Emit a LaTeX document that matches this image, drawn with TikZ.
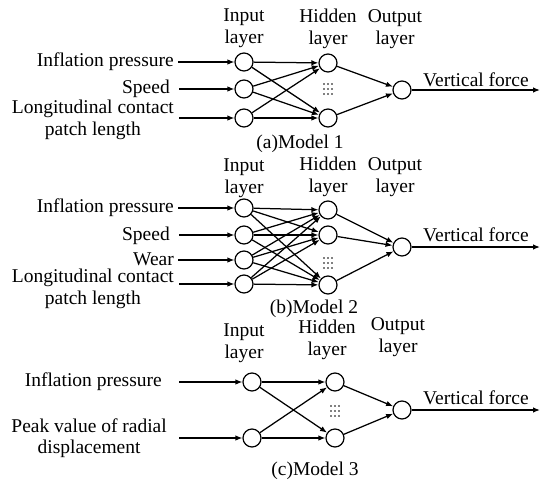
\documentclass[tikz,border=0pt]{standalone}
\usepackage{fontspec}
\setmainfont{Liberation Serif}
\usepackage{tikz}
\usetikzlibrary{arrows.meta,positioning}
\tikzset{
	neuron/.style={circle, draw, line width=1.2pt, minimum size=18pt, inner sep=0pt},
	wire/.style={line width=1.25pt, -{Latex[length=7pt,width=5.5pt]}},
	txt/.style={font=\fontsize{19.5}{21.5}\selectfont, inner sep=0pt, align=center}
}
\newcommand{\layerdots}[2]{%
	\foreach \i in {-1,0,1} \foreach \j in {-1,0,1} \fill (#1+4*\i,#2+5*\j) circle (0.85pt);}

\begin{document}
\begin{tikzpicture}[x=1pt, y=-1pt]
	\useasboundingbox (0,0) rectangle (550,490);
	% (a) Model 1
	\node[txt] (inA) at (244,28) {Input\\layer};
	\node[txt] (hidA) at (328,29) {Hidden\\layer};
	\node[txt] (outA) at (395,29) {Output\\layer};
	\node[neuron] (a1) at (244,62) {};
	\node[neuron] (a2) at (244,89) {};
	\node[neuron] (a3) at (244,118) {};
	\node[neuron] (ah1) at (328,63) {};
	\node[neuron] (ah2) at (328,118) {};
	\node[neuron] (ao) at (402,90) {};
	\layerdots{328}{89}
	\node[txt, anchor=east] (ta1) at (174,62) {Inflation pressure};
	\node[txt, anchor=east] (ta2) at (170,89) {Speed};
	\node[txt, anchor=east] (ta3) at (174,120) {Longitudinal contact\\patch length};
	\coordinate (sa1) at (178,62);
	\coordinate (sa2) at (179,89);
	\coordinate (sa3) at (179,118);
	\node[txt, anchor=west] (fa) at (423,80) {Vertical force};
	\coordinate (ea) at (540,90);
	\node[txt] (capA) at (300,144) {(a)Model 1};
	\foreach \i in {1,2,3} {
		\draw[wire] (sa\i) -- (a\i);
		\foreach \j in {1,2} \draw[wire] (a\i) -- (ah\j);
	}
	\foreach \j in {1,2} \draw[wire] (ah\j) -- (ao);
	\draw[wire] (ao) -- (ea);

	% (b) Model 2
	\node[txt] (inB) at (244,178) {Input\\layer};
	\node[txt] (hidB) at (328,177) {Hidden\\layer};
	\node[txt] (outB) at (395,177) {Output\\layer};
	\node[neuron] (b1) at (244,208) {};
	\node[neuron] (b2) at (244,235) {};
	\node[neuron] (b3) at (244,260) {};
	\node[neuron] (b4) at (244,284) {};
	\node[neuron] (bh1) at (328,210) {};
	\node[neuron] (bh2) at (328,235) {};
	\node[neuron] (bh3) at (328,285) {};
	\node[neuron] (bo) at (402,247) {};
	\layerdots{328}{263}
	\node[txt, anchor=east] (tb1) at (174,208) {Inflation pressure};
	\node[txt, anchor=east] (tb2) at (170,236) {Speed};
	\node[txt, anchor=east] (tb3) at (174,259) {Wear};
	\node[txt, anchor=east] (tb4) at (174,289) {Longitudinal contact\\patch length};
	\coordinate (sb1) at (178,208);
	\coordinate (sb2) at (179,235);
	\coordinate (sb3) at (178,260);
	\coordinate (sb4) at (179,284);
	\node[txt, anchor=west] (fb) at (423,235) {Vertical force};
	\coordinate (eb) at (540,247);
	\node[txt] (capB) at (314,309) {(b)Model 2};
	\foreach \i in {1,...,4} {
		\draw[wire] (sb\i) -- (b\i);
		\foreach \j in {1,2,3} \draw[wire] (b\i) -- (bh\j);
	}
	\foreach \j in {1,2,3} \draw[wire] (bh\j) -- (bo);
	\draw[wire] (bo) -- (eb);

	% (c) Model 3
	\node[txt] (inC) at (244,343) {Input\\layer};
	\node[txt] (hidC) at (327,340) {Hidden\\layer};
	\node[txt] (outC) at (398,337) {Output\\layer};
	\node[neuron] (c1) at (252,382) {};
	\node[neuron] (c2) at (252,438) {};
	\node[neuron] (ch1) at (335,382) {};
	\node[neuron] (ch2) at (335,438) {};
	\node[neuron] (co) at (402,410) {};
	\layerdots{335}{411}
	\node[txt, anchor=east] (tc1) at (162,382) {Inflation pressure};
	\node[txt, anchor=east] (tc2) at (167,438) {Peak value of radial\\displacement};
	\coordinate (sc1) at (179,382);
	\coordinate (sc2) at (179,438);
	\node[txt, anchor=west] (fc) at (423,398) {Vertical force};
	\coordinate (ec) at (540,410);
	\node[txt] (capC) at (315,471) {(c)Model 3};
	\foreach \i in {1,2} {
		\draw[wire] (sc\i) -- (c\i);
		\foreach \j in {1,2} \draw[wire] (c\i) -- (ch\j);
	}
	\foreach \j in {1,2} \draw[wire] (ch\j) -- (co);
	\draw[wire] (co) -- (ec);
\end{tikzpicture}
\end{document}
